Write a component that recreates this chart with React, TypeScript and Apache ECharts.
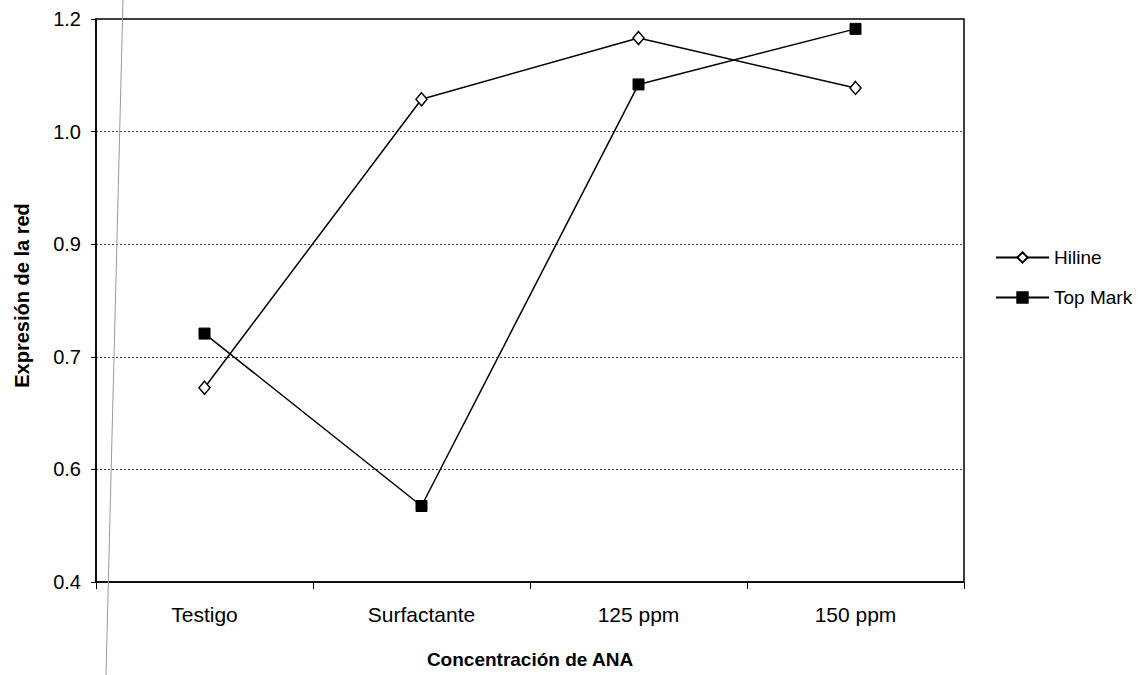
import React, { useEffect, useRef } from "react";
import * as echarts from "echarts";

const categories = ["Testigo", "Surfactante", "125 ppm", "150 ppm"];
const hiline = [0.676, 1.086, 1.173, 1.102];
const topMark = [0.753, 0.508, 1.107, 1.186];
const yTicks = [0.4, 0.56, 0.72, 0.88, 1.04, 1.2];

export default function App() {
  const ref = useRef<HTMLDivElement>(null);
  useEffect(() => {
    document.body.style.margin = "0";
    const chart = echarts.init(ref.current!, null, { renderer: "svg" });
    const font = "'Liberation Sans', Arial, sans-serif";
    chart.setOption({
      animation: false,
      backgroundColor: "#ffffff",
      textStyle: { fontFamily: font, color: "#000" },
      grid: {
        left: 96,
        right: 181,
        top: 19,
        bottom: 93,
        show: true,
        borderColor: "#000",
        borderWidth: 1.5,
        backgroundColor: "transparent",
      },
      legend: {
        orient: "vertical",
        left: 995,
        top: 248,
        padding: 0,
        itemWidth: 53,
        itemHeight: 13,
        itemGap: 21,
        textStyle: { fontSize: 19, color: "#000", fontFamily: font },
        data: ["Hiline", "Top Mark"],
      },
      xAxis: {
        type: "category",
        data: categories,
        boundaryGap: true,
        name: "Concentración de ANA",
        nameLocation: "middle",
        nameGap: 68,
        nameTextStyle: { fontSize: 19, fontWeight: "bold", color: "#000", fontFamily: font },
        axisLine: { lineStyle: { color: "#000", width: 1.5 } },
        axisTick: { show: true, length: 7, lineStyle: { color: "#000" } },
        axisLabel: { fontSize: 21, color: "#000", margin: 22, fontFamily: font },
        splitLine: { show: false },
      },
      yAxis: {
        type: "value",
        min: 0.4,
        max: 1.2,
        name: "Expresión de la red",
        nameLocation: "middle",
        nameGap: 64,
        nameTextStyle: {
          fontSize: 20,
          fontWeight: "bold",
          color: "#000",
          fontFamily: font,
          padding: [0, 0, 0, 10],
        },
        axisLine: { show: true, lineStyle: { color: "#000", width: 1.5 } },
        axisTick: { show: true, length: 5, customValues: yTicks, lineStyle: { color: "#000" } },
        axisLabel: {
          fontSize: 20,
          color: "#000",
          margin: 15,
          customValues: yTicks,
          fontFamily: font,
          formatter: (v: number) => v.toFixed(1),
        },
        splitLine: { show: true, lineStyle: { color: "#444", type: [2, 2], width: 1 } },
      },
      series: [
        {
          name: "Hiline",
          type: "line",
          data: hiline,
          symbol: "diamond",
          symbolSize: [11, 13],
          lineStyle: { color: "#000", width: 1.5 },
          itemStyle: { color: "#fff", borderColor: "#000", borderWidth: 1.5 },
        },
        {
          name: "Top Mark",
          type: "line",
          data: topMark,
          symbol: "rect",
          symbolSize: 11,
          lineStyle: { color: "#000", width: 1.5 },
          itemStyle: { color: "#000", borderColor: "#000", borderWidth: 1 },
        },
      ],
      graphic: [
        {
          type: "line",
          shape: { x1: 123, y1: 0, x2: 106, y2: 675 },
          style: { stroke: "#999", lineWidth: 1 },
          z: 100,
        },
      ],
    });
    return () => chart.dispose();
  }, []);
  return <div ref={ref} style={{ width: 1145, height: 675 }} />;
}
